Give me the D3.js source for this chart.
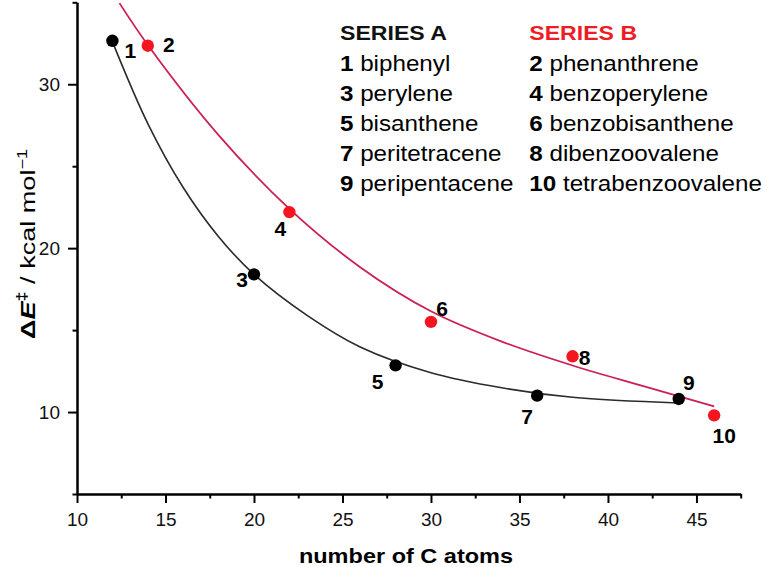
<!DOCTYPE html>
<html>
<head>
<meta charset="utf-8">
<script src="https://cdn.jsdelivr.net/npm/d3@7/dist/d3.min.js"></script>
<style>
  body { margin: 0; background: #fff; }
  svg { display: block; font-family: "Liberation Sans", Arial, sans-serif; }
</style>
</head>
<body>
<div id="chart"></div>
<script>
// series A (black) and B (red): carbon count vs barrier
const carbonsA = [12, 20, 28, 36, 44];
const energyA = [32.65, 18.4, 12.85, 11.0, 10.8];
const idsA = ["1", "3", "5", "7", "9"];
const namesA = ["biphenyl", "perylene", "bisanthene", "peritetracene", "peripentacene"];

const carbonsB = [14, 22, 30, 38, 46];
const energyB = [32.35, 22.2, 15.5, 13.4, 9.8];
const idsB = ["2", "4", "6", "8", "10"];
const namesB = ["phenanthrene", "benzoperylene", "benzobisanthene", "dibenzoovalene", "tetrabenzoovalene"];

// fitted curves
const fitAx = [12, 14, 16, 18, 20, 23, 26, 30, 34, 38, 44];
const fitAy = [32.6, 27.6, 23.7, 20.7, 18.4, 15.9, 13.97, 12.4, 11.48, 10.9, 10.55];
const fitBx = [12.4, 14, 18, 22, 26, 30, 34, 38, 42, 46];
const fitBy = [34.95, 32.4, 26.9, 22.4, 18.84, 16.15, 14.3, 12.84, 11.58, 10.35];

const xMajor = [10, 15, 20, 25, 30, 35, 40, 45];
const xMinor = [12.5, 17.5, 22.5, 27.5, 32.5, 37.5, 42.5, 47.5];
const yMajor = [10, 20, 30];
const yMinor = [5, 15, 25, 35];

const width = 767, height = 567;

const svg = d3.select("#chart")
    .append("svg")
    .attr("width", width)
    .attr("height", height);

const x = d3.scaleLinear().domain([10, 47.5]).range([77, 740.7]);
const y = d3.scaleLinear().domain([5, 35]).range([494, 2.3]);

// axes
svg.append("g")
    .attr("transform", `translate(0,${y(5)})`)
    .call(d3.axisBottom(x).tickValues(xMajor).tickSize(9).tickSizeOuter(0).tickPadding(10));
svg.append("g")
    .attr("transform", `translate(0,${y(5)})`)
    .call(d3.axisBottom(x).tickValues(xMinor).tickSize(4.5).tickSizeOuter(0).tickFormat(""));

svg.append("g")
    .attr("transform", `translate(${x(10)},0)`)
    .call(d3.axisLeft(y).tickValues(yMajor).tickSize(9).tickSizeOuter(0).tickPadding(8));
svg.append("g")
    .attr("transform", `translate(${x(10)},0)`)
    .call(d3.axisLeft(y).tickValues(yMinor).tickSize(4.5).tickSizeOuter(0).tickFormat(""));

svg.selectAll(".domain, .tick line")
    .attr("stroke", "#000")
    .attr("stroke-width", 2);
svg.selectAll(".tick text")
    .attr("font-size", 19)
    .attr("font-family", "'Liberation Sans', Arial, sans-serif")
    .attr("fill", "#111");

// axis titles
svg.append("text")
    .attr("transform", "translate(406,563) scale(1.12,1)")
    .attr("text-anchor", "middle")
    .attr("font-size", 21)
    .attr("font-weight", "bold")
    .text("number of C atoms");

const yTitle = svg.append("text")
    .attr("text-anchor", "middle")
    .attr("font-size", 21);
yTitle.append("tspan").attr("font-weight", "bold").text("\u0394");
yTitle.append("tspan").attr("font-weight", "bold").attr("font-style", "italic").text("E");
yTitle.append("tspan").attr("font-weight", "bold").attr("font-size", 14).attr("dy", -8).text("\u2021");
yTitle.append("tspan").attr("dy", 8).text(" / kcal mol");
yTitle.append("tspan").attr("font-size", 14).attr("dy", -8).text("\u22121");
const yLen = yTitle.node().getComputedTextLength();
yTitle.attr("transform", `translate(35,244) rotate(-90) scale(${190 / yLen},1)`);

// fitted curves
const line = d3.line()
    .x(d => x(d[0]))
    .y(d => y(d[1]))
    .curve(d3.curveCatmullRom.alpha(0.5));

svg.append("path")
    .datum(d3.zip(fitAx, fitAy))
    .attr("fill", "none")
    .attr("stroke", "#2b2b2b")
    .attr("stroke-width", 1.6)
    .attr("d", line);

svg.append("path")
    .datum(d3.zip(fitBx, fitBy))
    .attr("fill", "none")
    .attr("stroke", "#cc1f55")
    .attr("stroke-width", 1.8)
    .attr("d", line);

// points
svg.selectAll(".ptA")
    .data(d3.zip(carbonsA, energyA))
    .enter()
    .append("circle")
    .attr("class", "ptA")
    .attr("cx", d => x(d[0]))
    .attr("cy", d => y(d[1]))
    .attr("r", 6.2)
    .attr("fill", "#000");

svg.selectAll(".ptB")
    .data(d3.zip(carbonsB, energyB))
    .enter()
    .append("circle")
    .attr("class", "ptB")
    .attr("cx", d => x(d[0]))
    .attr("cy", d => y(d[1]))
    .attr("r", 6.2)
    .attr("fill", "#f3161f");

// point labels, offset from each point (A then B)
const offA = [[18, 10], [-12, 5], [-18, 16], [-10, 21], [10, -16]];
const offB = [[21, -1], [-9, 16], [11, -13], [12, 1], [10, 20]];

function pointLabels(cx, cy, ids, offs) {
    svg.selectAll(null)
        .data(ids)
        .enter()
        .append("text")
        .attr("x", (d, i) => x(cx[i]) + offs[i][0])
        .attr("y", (d, i) => y(cy[i]) + offs[i][1])
        .attr("dy", "0.36em")
        .attr("text-anchor", "middle")
        .attr("font-size", 21)
        .attr("font-weight", "bold")
        .text(d => d);
}
pointLabels(carbonsA, energyA, idsA, offA);
pointLabels(carbonsB, energyB, idsB, offB);

// legend
function legendColumn(x0, title, color, ids, names) {
    const g = svg.append("g");
    g.append("text")
        .attr("transform", `translate(${x0},40) scale(1.1,1)`)
        .attr("font-size", 21)
        .attr("font-weight", "bold")
        .attr("fill", color)
        .text(title);
    const row = g.selectAll(null)
        .data(ids)
        .enter()
        .append("text")
        .attr("transform", (d, i) => `translate(${x0},${70.7 + i * 30}) scale(1.1,1)`)
        .attr("font-size", 22);
    row.append("tspan").attr("font-weight", "bold").text(d => d);
    row.append("tspan").text((d, i) => " " + names[i]);
}
legendColumn(340, "SERIES A", "#111", idsA, namesA);
legendColumn(529.3, "SERIES B", "#ee1c25", idsB, namesB);
</script>
</body>
</html>
